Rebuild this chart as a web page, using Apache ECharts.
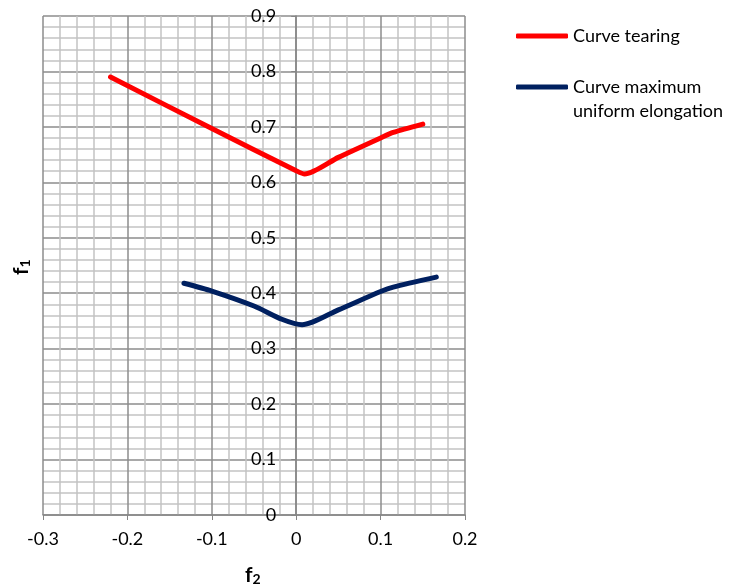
<!DOCTYPE html>
<html>
<head>
<meta charset="utf-8">
<script src="https://cdn.jsdelivr.net/npm/echarts@6/dist/echarts.min.js"></script>
<style>html,body{margin:0;padding:0;background:#fff}#c{width:730px;height:586px}</style>
</head>
<body>
<div id="c"></div>
<script>
const seriesNames = ['Curve tearing', 'Curve maximum uniform elongation'];
const tearingF2 = [-0.22, -0.1, 0.0, 0.01, 0.05, 0.1, 0.115, 0.15];
const tearingF1 = [0.79, 0.697, 0.621, 0.615, 0.645, 0.680, 0.690, 0.705];
const elongF2 = [-0.133, -0.1, -0.05, -0.017, 0.007, 0.05, 0.1, 0.115, 0.166];
const elongF1 = [0.418, 0.404, 0.377, 0.353, 0.343, 0.370, 0.403, 0.411, 0.429];
const xTicks = [-0.3, -0.2, -0.1, 0, 0.1, 0.2];
const yTicks = [0, 0.1, 0.2, 0.3, 0.4, 0.5, 0.6, 0.7, 0.8, 0.9];

const zip = (a, b) => a.map((v, i) => [v, b[i]]);
const FONT = 'Lato';
const GL = 43, GR = 465;
const xMin = xTicks[0], xMax = xTicks[xTicks.length - 1];
const yAxisOffset = -((0 - xMin) / (xMax - xMin)) * (GR - GL);
const chart = echarts.init(document.getElementById('c'));
chart.setOption({
  animation: false,
  textStyle: { fontFamily: FONT },
  grid: { left: GL, right: 730 - GR, top: 16, bottom: 71, containLabel: false },
  xAxis: {
    type: 'value', min: xMin, max: xMax, interval: 0.1,
    axisLine: { onZero: false, lineStyle: { color: '#868686', width: 1.5 } },
    axisTick: { show: true, length: 5, lineStyle: { color: '#868686' } },
    axisLabel: { color: '#000', fontSize: 18, margin: 15, fontFamily: FONT,
      formatter: v => String(Math.round(v * 10) / 10) },
    splitLine: { show: true, lineStyle: { color: '#8c8c8c', width: 1.5 } },
    minorTick: { show: false, splitNumber: 5 },
    minorSplitLine: { show: true, lineStyle: { color: '#c4c4c4', width: 1.5 } }
  },
  yAxis: {
    type: 'value', min: yTicks[0], max: yTicks[yTicks.length - 1], interval: 0.1,
    position: 'left', offset: yAxisOffset,
    axisLine: { show: true, onZero: false, lineStyle: { color: '#868686', width: 1.5 } },
    axisTick: { show: true, length: 5, lineStyle: { color: '#868686' } },
    axisLabel: { color: '#000', fontSize: 18, margin: 20, fontFamily: FONT,
      formatter: v => String(Math.round(v * 10) / 10) },
    splitLine: { show: true, lineStyle: { color: '#8c8c8c', width: 1.5 } },
    minorTick: { show: false, splitNumber: 5 },
    minorSplitLine: { show: true, lineStyle: { color: '#c4c4c4', width: 1.5 } }
  },
  legend: {
    orient: 'vertical', left: 511, top: 19, itemGap: 3,
    itemWidth: 52, itemHeight: 5, icon: 'roundRect',
    textStyle: { fontFamily: FONT, fontSize: 18, color: '#000', lineHeight: 24 },
    formatter: n => n === seriesNames[1] ? '\nCurve maximum\nuniform elongation' : n,
    data: seriesNames
  },
  series: [
    { name: seriesNames[0], type: 'line', data: zip(tearingF2, tearingF1), smooth: 0.25,
      symbol: 'none', lineStyle: { color: '#ff0000', width: 5, cap: 'round' }, itemStyle: { color: '#ff0000' } },
    { name: seriesNames[1], type: 'line', data: zip(elongF2, elongF1), smooth: 0.25,
      symbol: 'none', lineStyle: { color: '#002060', width: 5, cap: 'round' }, itemStyle: { color: '#002060' } }
  ],
  graphic: [
    { type: 'text', left: 245, top: 565,
      style: { text: '{a|f}{b|2}', rich: { a: { fontFamily: FONT, fontSize: 21, fontWeight: 'bold', fill: '#000' },
        b: { fontFamily: FONT, fontSize: 14, fontWeight: 'bold', fill: '#000', verticalAlign: 'bottom', padding: [8, 0, 0, 0] } } } },
    { type: 'text', x: 10, y: 275, rotation: Math.PI / 2,
      style: { text: '{a|f}{b|1}', rich: { a: { fontFamily: FONT, fontSize: 21, fontWeight: 'bold', fill: '#000' },
        b: { fontFamily: FONT, fontSize: 14, fontWeight: 'bold', fill: '#000', verticalAlign: 'bottom', padding: [8, 0, 0, 0] } } } }
  ]
});
</script>
</body>
</html>
